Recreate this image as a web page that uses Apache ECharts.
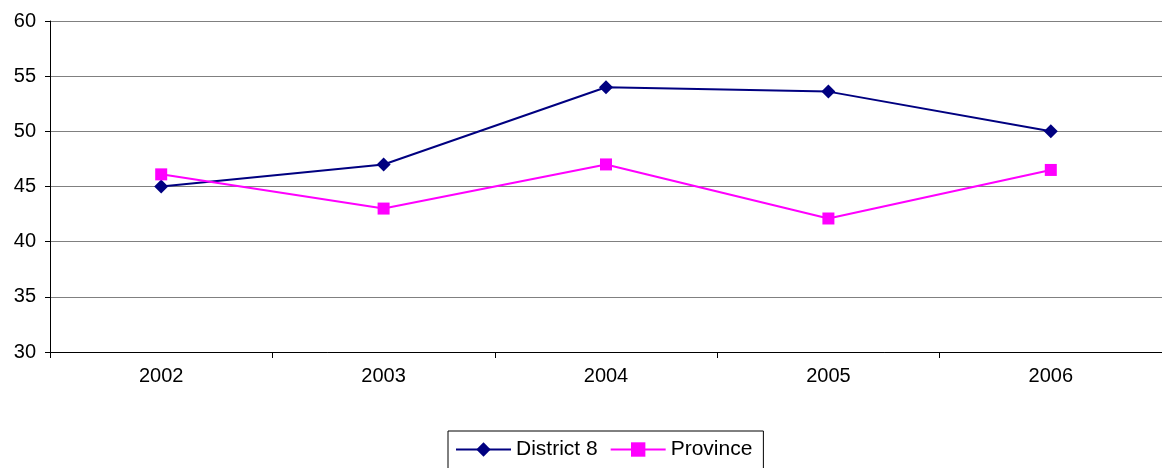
<!DOCTYPE html>
<html>
<head>
<meta charset="utf-8">
<script src="https://cdn.jsdelivr.net/npm/echarts@6/dist/echarts.min.js"></script>
<style>
  html, body { margin: 0; padding: 0; background: #fff; }
  #chart { width: 1162px; height: 468px; }
</style>
</head>
<body>
<div id="chart"></div>
<script>
// Years on the category axis
const years = ['2002', '2003', '2004', '2005', '2006'];
// Series values
const district8 = [45.0, 47.0, 54.0, 53.6, 50.0];
const province = [46.1, 43.0, 47.0, 42.1, 46.5];
// Value axis range
const yMin = 30;
const yMax = 60;
const yStep = 5;

const font = 'Liberation Sans, Arial, sans-serif';

const chart = echarts.init(document.getElementById('chart'), null, { renderer: 'canvas' });
chart.setOption({
  animation: false,
  backgroundColor: '#ffffff',
  grid: { left: 50, top: 21, width: 1113, height: 331, containLabel: false },
  xAxis: {
    type: 'category',
    data: years,
    boundaryGap: true,
    axisLine: { lineStyle: { color: '#000', width: 1 } },
    axisTick: { show: true, length: 6, alignWithLabel: false, lineStyle: { color: '#000' } },
    axisLabel: { color: '#000', fontFamily: font, fontSize: 20, margin: 14 },
    splitLine: { show: false }
  },
  yAxis: {
    type: 'value',
    min: yMin,
    max: yMax,
    interval: yStep,
    axisLine: { show: true, lineStyle: { color: '#000', width: 1 } },
    axisTick: { show: true, length: 5, lineStyle: { color: '#000' } },
    axisLabel: { color: '#000', fontFamily: font, fontSize: 20, margin: 14 },
    splitLine: { show: true, lineStyle: { color: '#808080', width: 1 } }
  },
  legend: {
    left: 448,
    top: 431,
    itemWidth: 55,
    itemHeight: 18,
    itemGap: 12,
    padding: [8, 11, 9, 7],
    borderColor: '#000',
    borderWidth: 1,
    textStyle: { color: '#000', fontFamily: font, fontSize: 21 },
    data: ['District 8', 'Province']
  },
  series: [
    {
      name: 'District 8',
      type: 'line',
      data: district8,
      symbol: 'diamond',
      symbolSize: 14,
      color: '#000080',
      lineStyle: { color: '#000080', width: 2 },
      itemStyle: { color: '#000080' }
    },
    {
      name: 'Province',
      type: 'line',
      data: province,
      symbol: 'rect',
      symbolSize: 12,
      color: '#ff00ff',
      lineStyle: { color: '#ff00ff', width: 2 },
      itemStyle: { color: '#ff00ff' }
    }
  ]
});
</script>
</body>
</html>
